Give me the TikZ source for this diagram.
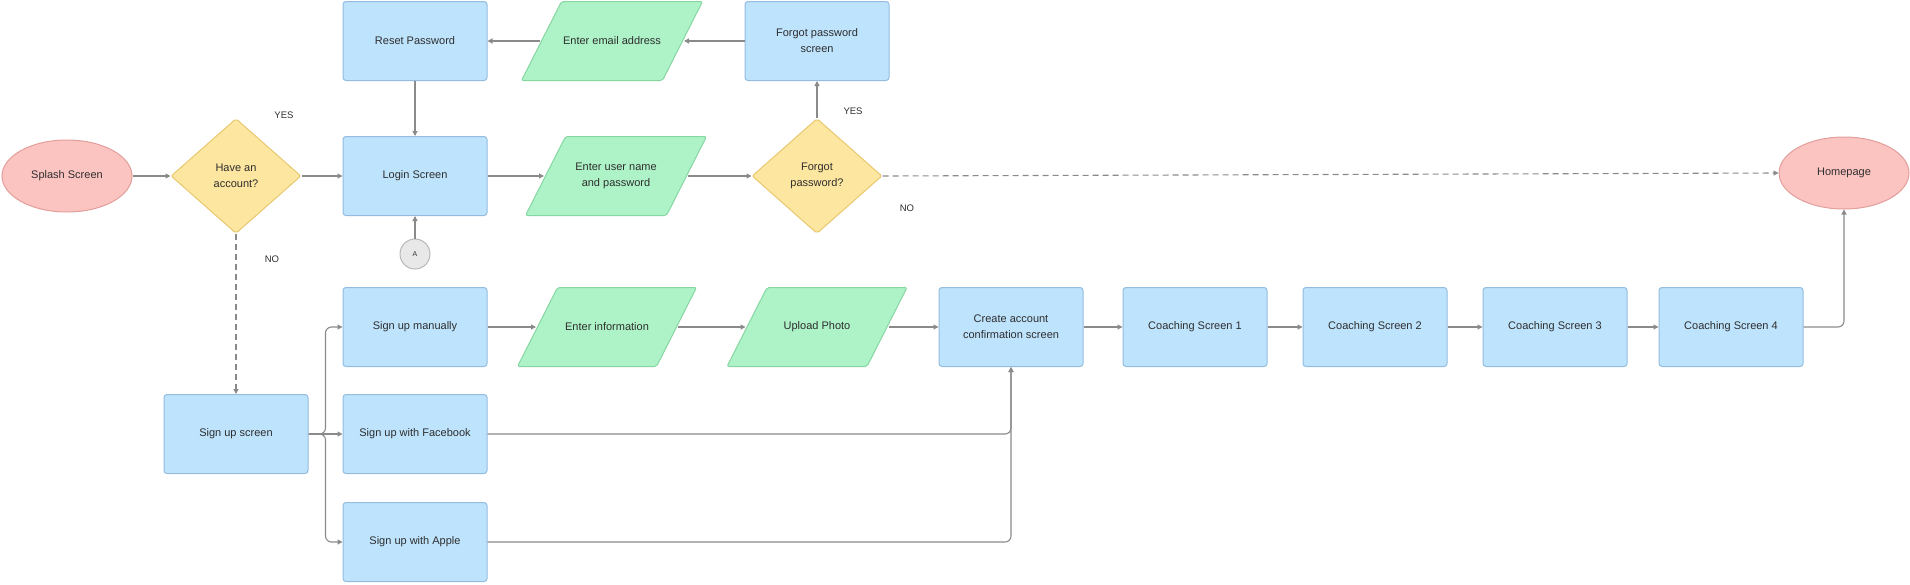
\documentclass[tikz,border=0pt]{standalone}
\usepackage{fontspec}
\setmainfont{Liberation Sans}
\usetikzlibrary{shapes.geometric,arrows.meta}
\definecolor{bluef}{HTML}{BEE3FC}
\definecolor{blueb}{HTML}{93BCE0}
\definecolor{greenf}{HTML}{ADF3C7}
\definecolor{greenb}{HTML}{86D6A2}
\definecolor{yellowf}{HTML}{FDE6A0}
\definecolor{yellowb}{HTML}{E8C870}
\definecolor{pinkf}{HTML}{FCC4C1}
\definecolor{pinkb}{HTML}{E29E9B}
\definecolor{greyf}{HTML}{E8E8E8}
\definecolor{greyb}{HTML}{B8B8B8}
\definecolor{arrowc}{HTML}{8A8A8A}
\definecolor{txt}{HTML}{2E2E2E}
\tikzset{
  base/.style={align=center, text=txt, line width=1pt, inner sep=2pt, font=\fontsize{11}{16}\selectfont},
  screen/.style={base, rectangle, rounded corners=3pt, draw=blueb, fill=bluef, minimum width=144pt, minimum height=79pt},
  io/.style={base, rectangle, draw=none, minimum width=#1, minimum height=81pt,
    path picture={
      \draw[fill=greenf, draw=greenb, line width=1pt, rounded corners=2pt]
        ([shift={(1pt,1pt)}]path picture bounding box.south west) --
        ([shift={(41pt,-1pt)}]path picture bounding box.north west) --
        ([shift={(-1pt,-1pt)}]path picture bounding box.north east) --
        ([shift={(-41pt,1pt)}]path picture bounding box.south east) -- cycle;
    }},
  io/.default=183pt,
  decision/.style={base, diamond, draw=yellowb, fill=yellowf, minimum width=130pt, minimum height=115pt, rounded corners=2pt, inner sep=0pt},
  terminal/.style={base, ellipse, draw=pinkb, fill=pinkf, minimum width=130pt, minimum height=72pt},
  connector/.style={circle, draw=greyb, fill=greyf, line width=1pt, minimum size=30pt, inner sep=0pt, text=txt, font=\fontsize{7}{8}\selectfont},
  arr/.style={draw=arrowc, line width=1.1pt, -{Triangle[length=5pt,width=5pt]}},
  dasharr/.style={arr, dash pattern=on 6pt off 4pt},
  lbl/.style={text=txt, inner sep=0pt, font=\fontsize{9.5}{11}\selectfont}
}
\begin{document}
\begin{tikzpicture}[x=1pt,y=-1pt]
\useasboundingbox (0,0) rectangle (1910,584);
% nodes
\node[terminal] (splash) at (67,176) {Splash Screen};
\node[decision] (d1) at (236,176) {Have an\\account?};
\node[screen] (reset) at (415,41) {Reset Password};
\node[screen] (login) at (415,176) {Login Screen};
\node[connector] (ca1) at (415,254) {A};
\node[io] (email) at (612,41) {Enter email address};
\node[screen] (fps) at (817,41) {Forgot password\\screen};
\node[io] (eun) at (616,176) {Enter user name\\and password};
\node[decision] (d2) at (817,176) {Forgot\\password?};
\node[terminal] (home) at (1844,173) {Homepage};
\node[screen] (su) at (236,434) {Sign up screen};
\node[screen] (sm) at (415,327) {Sign up manually};
\node[screen] (fb) at (415,434) {Sign up with Facebook};
\node[screen] (ap) at (415,542) {Sign up with Apple};
\node[io=181pt] (ei) at (607,327) {Enter information};
\node[io=182pt] (up) at (817,327) {Upload Photo};
\node[screen] (ca) at (1011,327) {Create account\\confirmation screen};
\node[screen] (cs1) at (1195,327) {Coaching Screen 1};
\node[screen] (cs2) at (1375,327) {Coaching Screen 2};
\node[screen] (cs3) at (1555,327) {Coaching Screen 3};
\node[screen] (cs4) at (1731,327) {Coaching Screen 4};
% labels
\node[lbl] (yes1) at (284,115) {YES};
\node[lbl] (no1) at (272,259) {NO};
\node[lbl] (yes2) at (853,111) {YES};
\node[lbl] (no2) at (907,208) {NO};
% connectors
\draw[arr] (splash) -- (d1);
\draw[arr] (d1) -- (login);
\draw[dasharr] (d1.south) -- (su.north);
\draw[arr] (reset) -- (login);
\draw[arr] (ca1) -- (login);
\draw[arr] (login) -- ([xshift=20pt]eun.west);
\draw[arr] ([xshift=-20pt]eun.east) -- (d2);
\draw[arr] (d2.north) -- (fps.south);
\draw[arr] (fps) -- ([xshift=-20pt]email.east);
\draw[arr] ([xshift=20pt]email.west) -- (reset);
\draw[dasharr] (d2.east) -- (home.west);
\draw[arr, rounded corners=6pt] (su.east) -- ++(17,0) |- (sm.west);
\draw[arr] (su) -- (fb);
\draw[arr, rounded corners=6pt] (su.east) -- ++(17,0) |- (ap.west);
\draw[arr] (sm) -- ([xshift=20pt]ei.west);
\draw[arr] ([xshift=-20pt]ei.east) -- ([xshift=20pt]up.west);
\draw[arr] ([xshift=-20pt]up.east) -- (ca);
\draw[arr, rounded corners=6pt] (fb.east) -| (ca.south);
\draw[arr, rounded corners=6pt] (ap.east) -| (ca.south);
\draw[arr] (ca) -- (cs1);
\draw[arr] (cs1) -- (cs2);
\draw[arr] (cs2) -- (cs3);
\draw[arr] (cs3) -- (cs4);
\draw[arr, rounded corners=6pt] (cs4.east) -| (home.south);
\end{tikzpicture}
\end{document}
